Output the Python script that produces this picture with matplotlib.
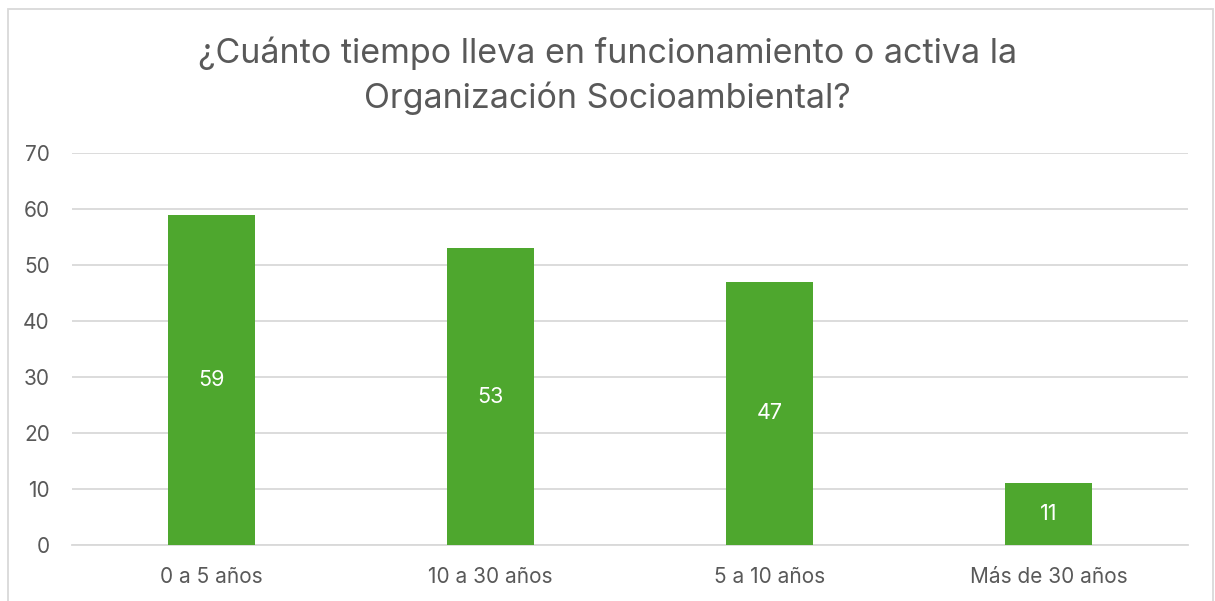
import matplotlib
matplotlib.use("Agg")
import matplotlib.pyplot as plt
from matplotlib.patches import Rectangle

categories = ["0 a 5 años", "10 a 30 años", "5 a 10 años", "Más de 30 años"]
values = [59, 53, 47, 11]
yticks = [0, 10, 20, 30, 40, 50, 60, 70]
title = "¿Cuánto tiempo lleva en funcionamiento o activa la\nOrganización Socioambiental?"

plt.rcParams['font.family'] = ['Inter', 'DejaVu Sans']

W, H = 1215, 601
fig = plt.figure(figsize=(W / 100, H / 100), dpi=100)
ax = fig.add_axes([72 / W, 1 - 545 / H, (1188 - 72) / W, (545 - 153) / H])

green = "#4EA72E"
text_gray = "#595959"
grid_gray = "#D9D9D9"

x = range(len(categories))
bars = ax.bar(x, values, width=0.315, color=green, zorder=3)
for xi, v in zip(x, values):
    ax.text(xi, v / 2, str(v), ha="center", va="center", color="white", fontsize=15.5, zorder=4)

ax.set_xlim(-0.5, len(categories) - 0.5)
ax.set_ylim(0, 70)
ax.set_yticks(yticks)
ax.set_yticklabels([str(t) for t in yticks])
ax.set_xticks(list(x))
ax.set_xticklabels(categories)
ax.yaxis.grid(True, color=grid_gray, linewidth=1.3, zorder=0)
ax.set_axisbelow(True)
for s in ["left", "right", "top"]:
    ax.spines[s].set_visible(False)
ax.spines["bottom"].set_color(grid_gray)
ax.spines["bottom"].set_linewidth(1.3)
ax.tick_params(axis="both", length=0, colors=text_gray, labelsize=15)
ax.tick_params(axis="y", pad=16)
ax.tick_params(axis="x", pad=16)

fig.text(0.5, 1 - 76 / H, title, ha="center", va="center", fontsize=24.5, color=text_gray, linespacing=1.42)

fig.patches.append(Rectangle((7.5 / W, -0.05), (1212.5 - 7.5) / W, 1.05 - 9.5 / H,
                             transform=fig.transFigure, fill=False, edgecolor=grid_gray, linewidth=1.3))

fig.savefig("out.png", dpi=100, facecolor="white")
